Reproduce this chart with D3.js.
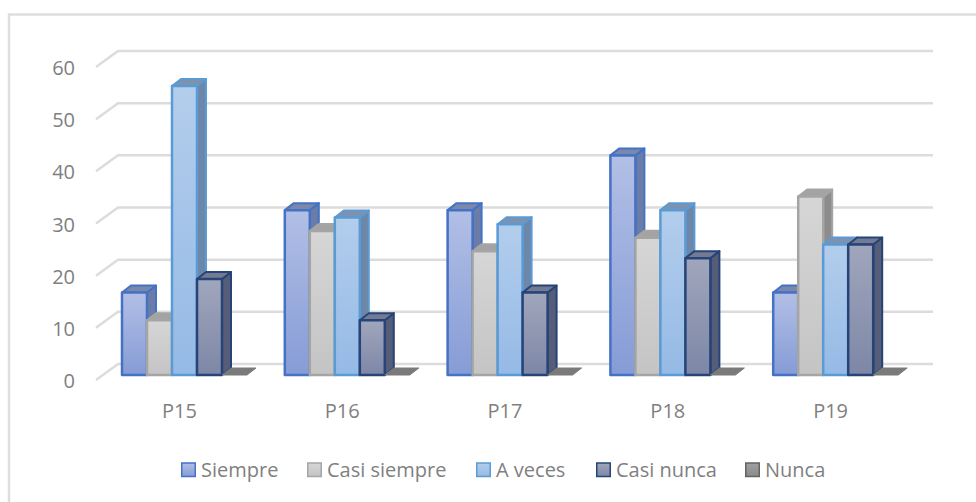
<!DOCTYPE html>
<html>
<head>
<meta charset="utf-8">
<script src="https://cdn.jsdelivr.net/npm/d3@7"></script>
<style>
  html, body { margin: 0; padding: 0; background: #fff; }
  svg { display: block; }
  text { font-family: "Open Sans", sans-serif; fill: #7f7f7f; }
</style>
</head>
<body>
<svg id="chart" width="976" height="502"></svg>
<script>
const categories = ["P15", "P16", "P17", "P18", "P19"]
const seriesNames = ["Siempre", "Casi siempre", "A veces", "Casi nunca", "Nunca"]
const siempre = [15.8, 31.6, 31.6, 42.1, 15.8]
const casiSiempre = [10.5, 27.6, 23.7, 26.3, 34.2]
const aVeces = [55.4, 30.2, 28.9, 31.6, 25]
const casiNunca = [18.4, 10.5, 15.8, 22.4, 25]
const nunca = [0, 0, 0, 0, 0]
const seriesValues = [siempre, casiSiempre, aVeces, casiNunca, nunca]
const yTicks = [0, 10, 20, 30, 40, 50, 60]

// fill top, fill bottom, outline, top face, side face
const palette = [
    ["#b2bfe6", "#869cd6", "#4472c4", "#7a88ac", "#6b7ca8"],
    ["#d6d6d6", "#c4c4c4", "#a5a5a5", "#a3a3a3", "#8c8c8c"],
    ["#b3cdec", "#95bae6", "#5b9bd5", "#7d92ae", "#6c87a8"],
    ["#a0a6bc", "#7d87a6", "#264478", "#737a94", "#555d78"],
    ["#a0a0a0", "#8a8a8a", "#636363", "#7a7a7a", "#5a5a5a"]
]

const svg = d3.select("#chart")
const wallLeft = 96
const wallRight = 911
const depth = {x: 22, y: -16}   // floor depth of the wall
const barDepth = {x: 9, y: -7}

// only the top and left edges of the frame are in the picture
svg.append("path")
    .attr("d", "M9,502V14.5H976")
    .attr("fill", "none")
    .attr("stroke", "#dedede")
    .attr("stroke-width", 2.5)

const y = d3.scaleLinear().domain([0, 60]).range([380, 67])
const x = d3.scaleBand().domain(categories).range([98, 912])
const xBar = d3.scaleBand().domain(seriesNames)
    .range([24, 149])

const defs = svg.append("defs")
palette.forEach((p, i) => {
    const g = defs.append("linearGradient")
        .attr("id", "fill" + i)
        .attr("x1", 0).attr("y1", 0).attr("x2", 0).attr("y2", 1)
    g.append("stop").attr("offset", 0).attr("stop-color", p[0])
    g.append("stop").attr("offset", 1).attr("stop-color", p[1])
})

// grid: back wall lines plus the slanted piece on the side wall
const grid = svg.append("g")
    .attr("fill", "none")
    .attr("stroke", "#dcdcdc")
    .attr("stroke-width", 2.5)
grid.selectAll("path").data(yTicks).join("path")
    .attr("d", d => {
        const p = d3.path()
        p.moveTo(wallLeft, y(d))
        p.lineTo(wallLeft + depth.x, y(d) + depth.y)
        p.lineTo(wallRight + depth.x, y(d) + depth.y)
        return p.toString()
    })

svg.append("g").selectAll("text").data(yTicks).join("text")
    .attr("x", 75)
    .attr("y", d => y(d) + 1)
    .attr("dy", "0.35em")
    .attr("text-anchor", "end")
    .attr("font-size", 20)
    .text(d => d)

svg.append("g").selectAll("text").data(categories).join("text")
    .attr("x", d => x(d) + x.bandwidth() / 2)
    .attr("y", 411)
    .attr("dy", "0.35em")
    .attr("text-anchor", "middle")
    .attr("font-size", 20)
    .text(d => d)

const baseY = y(0) - 5
const h = v => y(0) - y(v)

categories.forEach((cat, ci) => {
    const group = svg.append("g")
        .attr("transform", `translate(${x(cat)},0)`)
    // drawn left to right so each bar overlaps the side of the previous one
    seriesNames.forEach((name, si) => {
        const v = seriesValues[si][ci]
        const p = palette[si]
        const bx = xBar(name)
        const bw = xBar.bandwidth()
        const top = baseY - h(v)
        const bar = group.append("g")
            .attr("stroke-linejoin", "round")

        // side
        bar.append("path")
            .attr("d", `M${bx + bw},${top}l${barDepth.x},${barDepth.y}V${baseY + barDepth.y}l${-barDepth.x},${-barDepth.y}Z`)
            .attr("fill", p[4])
            .attr("stroke", p[2])
            .attr("stroke-width", v > 0 ? 2 : 0)
        // top
        bar.append("path")
            .attr("d", `M${bx},${top}l${barDepth.x},${barDepth.y}h${bw}l${-barDepth.x},${-barDepth.y}Z`)
            .attr("fill", p[3])
            .attr("stroke", v > 0 ? p[2] : p[3])
            .attr("stroke-width", v > 0 ? 2 : 1)
        // front
        if (v > 0) {
            bar.append("rect")
                .attr("x", bx).attr("y", top)
                .attr("width", bw).attr("height", h(v))
                .attr("fill", `url(#fill${si})`)
                .attr("stroke", p[2])
                .attr("stroke-width", 2.5)
        }
    })
})

// legend
const legendX = [181, 307, 476, 596, 745]
const legend = svg.append("g").selectAll("g").data(seriesNames).join("g")
    .attr("transform", (d, i) => `translate(${legendX[i]},470)`)
legend.append("rect")
    .attr("x", 0.75).attr("y", -7)
    .attr("width", 13.5).attr("height", 13.5)
    .attr("fill", (d, i) => `url(#fill${i})`)
    .attr("stroke", (d, i) => palette[i][2])
    .attr("stroke-width", 1.5)
legend.append("text")
    .attr("x", 20)
    .attr("dy", "0.35em")
    .attr("font-size", 20)
    .text(d => d)
</script>
</body>
</html>
